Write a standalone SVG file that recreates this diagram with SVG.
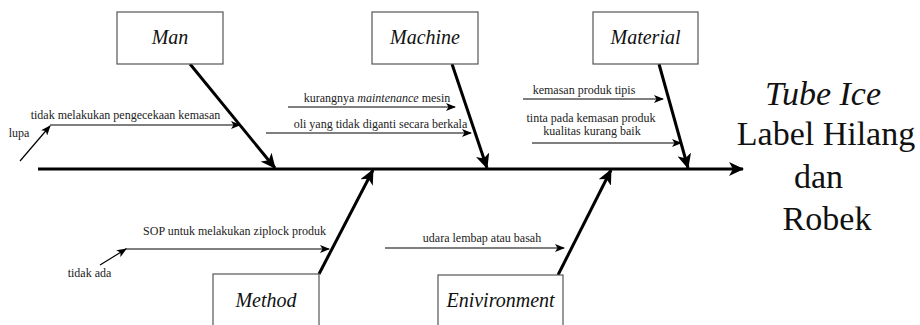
<svg xmlns="http://www.w3.org/2000/svg" width="920" height="325" viewBox="0 0 920 325">
<style>
.box{fill:#fff;stroke:#555;stroke-width:1.2}
.lbl{font-style:italic;font-size:20px;fill:#111;text-anchor:middle}
.cause{font-size:12px;fill:#222;text-anchor:middle}
.thick{stroke:#000;stroke-width:3;fill:none;marker-end:url(#big)}
.thin{stroke:#000;stroke-width:1.2;fill:none;marker-end:url(#small)}
.res{font-size:34px;fill:#111;text-anchor:middle}
</style>
<defs>
<marker id="big" markerWidth="16" markerHeight="14" refX="14" refY="7" orient="auto" markerUnits="userSpaceOnUse">
<path d="M0,0 L15,7 L0,14 L4,7 z" fill="#000"/>
</marker>
<marker id="small" markerWidth="10" markerHeight="8" refX="9" refY="4" orient="auto" markerUnits="userSpaceOnUse">
<path d="M0,0 L10,4 L0,8 L2.5,4 z" fill="#000"/>
</marker>
</defs>
<rect width="920" height="325" fill="#fff"/>

<g id="connectors">
<line class="thick" x1="38" y1="169" x2="743" y2="169"/>
<line class="thick" x1="190" y1="64" x2="275" y2="168"/>
<line class="thick" x1="452" y1="64" x2="487" y2="168"/>
<line class="thick" x1="659" y1="64" x2="688" y2="168"/>
<line class="thick" x1="319" y1="274" x2="373" y2="170"/>
<line class="thick" x1="558" y1="275" x2="611" y2="170"/>
<line class="thin" x1="20" y1="161" x2="50" y2="126"/>
<line class="thin" x1="50" y1="125" x2="240" y2="125"/>
<line class="thin" x1="288" y1="107" x2="455" y2="107"/>
<line class="thin" x1="266" y1="133" x2="471" y2="133"/>
<line class="thin" x1="523" y1="99" x2="663" y2="99"/>
<line class="thin" x1="532" y1="143" x2="681" y2="143"/>
<line class="thin" x1="100" y1="265" x2="126" y2="249"/>
<line class="thin" x1="125" y1="249" x2="329" y2="249"/>
<line class="thin" x1="385" y1="248" x2="564" y2="248"/>
</g>

<g font-family="'Liberation Serif', 'DejaVu Serif', serif">
<g id="man">
<rect class="box" x="117" y="12" width="106" height="52"/>
<text class="lbl" x="170" y="44">Man</text>
</g>
<g id="machine">
<rect class="box" x="372" y="12" width="106" height="52"/>
<text class="lbl" x="425" y="44">Machine</text>
</g>
<g id="material">
<rect class="box" x="593" y="12" width="105" height="52"/>
<text class="lbl" x="645.5" y="44">Material</text>
</g>
<g id="method">
<rect class="box" x="213" y="274" width="106" height="60"/>
<text class="lbl" x="266" y="307">Method</text>
</g>
<g id="environment">
<rect class="box" x="438" y="275" width="125" height="60"/>
<text class="lbl" x="500.5" y="307">Enivironment</text>
</g>

<g id="causes">
<text class="cause" x="19" y="137">lupa</text>
<text class="cause" x="125.5" y="119">tidak melakukan pengecekaan kemasan</text>
<text class="cause" x="377" y="102">kurangnya <tspan font-style="italic">maintenance</tspan> mesin</text>
<text class="cause" x="380.5" y="128">oli yang tidak diganti secara berkala</text>
<text class="cause" x="584" y="94">kemasan produk tipis</text>
<text class="cause" x="591" y="121.5" font-size="11">tinta pada kemasan produk</text>
<text class="cause" x="592" y="134.5" font-size="11">kualitas kurang baik</text>
<text class="cause" x="234.5" y="235">SOP untuk melakukan ziplock produk</text>
<text class="cause" x="89.5" y="277">tidak ada</text>
<text class="cause" x="482" y="242">udara lembap atau basah</text>
</g>

<g id="effect">
<text class="res" x="823" y="105" font-style="italic">Tube Ice</text>
<text class="res" x="826" y="145">Label Hilang</text>
<text class="res" x="818.5" y="188">dan</text>
<text class="res" x="827" y="230">Robek</text>
</g>
</g>
</svg>
